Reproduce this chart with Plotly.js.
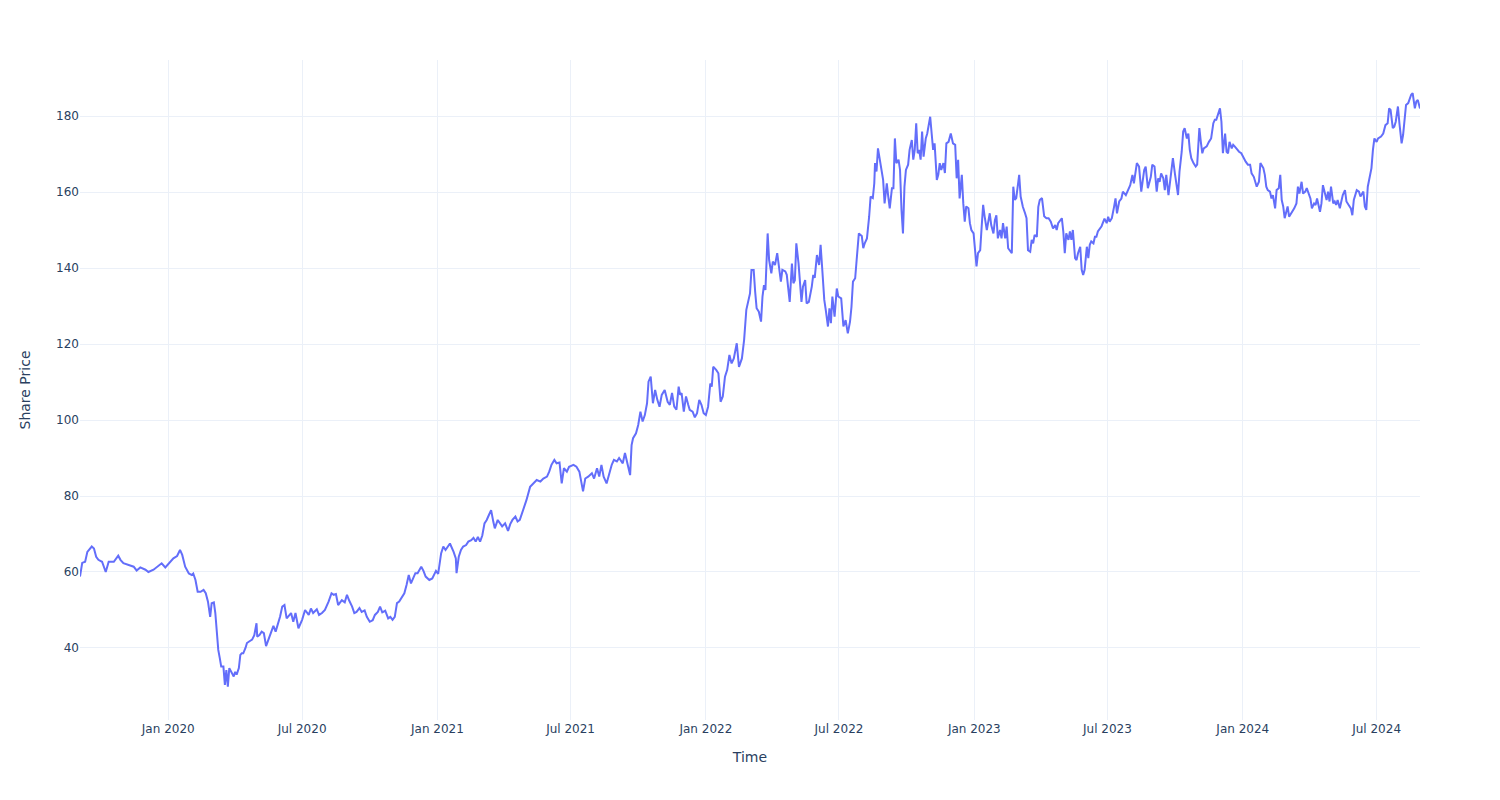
<!DOCTYPE html>
<html>
<head>
<meta charset="utf-8">
<script src="https://cdn.plot.ly/plotly-3.0.1.min.js"></script>
<style>html,body{margin:0;padding:0;background:#fff;}#chart{width:1500px;height:800px;}</style>
</head>
<body>
<div id="chart"></div>
<script>
const dates = [
"2019-09-03","2019-09-06","2019-09-10","2019-09-13","2019-09-19","2019-09-22","2019-09-25","2019-09-28","2019-10-03","2019-10-08",
"2019-10-12","2019-10-19","2019-10-25","2019-10-28","2019-11-01","2019-11-08","2019-11-15","2019-11-19","2019-11-24","2019-12-01",
"2019-12-05","2019-12-12","2019-12-17","2019-12-23","2019-12-28","2020-01-04","2020-01-08","2020-01-13","2020-01-17","2020-01-20",
"2020-01-24","2020-01-29","2020-02-02","2020-02-04","2020-02-07","2020-02-10","2020-02-14","2020-02-18","2020-02-21","2020-02-24",
"2020-02-27","2020-02-29","2020-03-03","2020-03-05","2020-03-07","2020-03-09","2020-03-11","2020-03-13","2020-03-16","2020-03-18",
"2020-03-20","2020-03-22","2020-03-24","2020-03-28","2020-03-30","2020-04-01","2020-04-03","2020-04-06","2020-04-08","2020-04-10",
"2020-04-12","2020-04-15","2020-04-17","2020-04-20","2020-04-24","2020-04-27","2020-04-30","2020-05-01","2020-05-04","2020-05-07",
"2020-05-10","2020-05-13","2020-05-16","2020-05-20","2020-05-23","2020-05-26","2020-05-29","2020-06-01","2020-06-04","2020-06-07",
"2020-06-10","2020-06-13","2020-06-16","2020-06-19","2020-06-22","2020-06-26","2020-07-01","2020-07-05","2020-07-10","2020-07-13",
"2020-07-16","2020-07-21","2020-07-24","2020-07-28","2020-08-01","2020-08-06","2020-08-10","2020-08-13","2020-08-16","2020-08-19",
"2020-08-24","2020-08-28","2020-08-31","2020-09-03","2020-09-07","2020-09-10","2020-09-13","2020-09-17","2020-09-20","2020-09-24",
"2020-09-27","2020-10-01","2020-10-05","2020-10-08","2020-10-12","2020-10-15","2020-10-18","2020-10-22","2020-10-26","2020-10-29",
"2020-11-01","2020-11-04","2020-11-07","2020-11-10","2020-11-14","2020-11-17","2020-11-20","2020-11-23","2020-11-26","2020-12-02",
"2020-12-05","2020-12-10","2020-12-13","2020-12-16","2020-12-21","2020-12-25","2020-12-30","2021-01-02","2021-01-06","2021-01-09",
"2021-01-12","2021-01-18","2021-01-23","2021-01-26","2021-01-27","2021-01-30","2021-02-02","2021-02-05","2021-02-09","2021-02-12",
"2021-02-16","2021-02-19","2021-02-22","2021-02-25","2021-02-28","2021-03-03","2021-03-06","2021-03-09","2021-03-12","2021-03-15",
"2021-03-18","2021-03-20","2021-03-24","2021-03-27","2021-03-30","2021-04-03","2021-04-07","2021-04-10","2021-04-13","2021-04-17",
"2021-04-20","2021-04-23","2021-04-27","2021-05-02","2021-05-07","2021-05-11","2021-05-16","2021-05-21","2021-05-25","2021-05-30",
"2021-06-02","2021-06-05","2021-06-09","2021-06-12","2021-06-16","2021-06-19","2021-06-22","2021-06-26","2021-06-29","2021-07-05",
"2021-07-09","2021-07-13","2021-07-16","2021-07-18","2021-07-21","2021-07-25","2021-07-30","2021-08-02","2021-08-06","2021-08-09",
"2021-08-12","2021-08-15","2021-08-19","2021-08-23","2021-08-26","2021-08-29","2021-09-02","2021-09-05","2021-09-10","2021-09-13",
"2021-09-16","2021-09-20","2021-09-22","2021-09-24","2021-09-28","2021-10-01","2021-10-04","2021-10-07","2021-10-10","2021-10-13",
"2021-10-15","2021-10-18","2021-10-21","2021-10-24","2021-10-27","2021-10-30","2021-11-02","2021-11-06","2021-11-10","2021-11-13",
"2021-11-16","2021-11-19","2021-11-22","2021-11-25","2021-11-27","2021-11-29","2021-12-02","2021-12-05","2021-12-08","2021-12-10",
"2021-12-14","2021-12-17","2021-12-20","2021-12-23","2021-12-26","2021-12-29","2022-01-01","2022-01-04","2022-01-07","2022-01-09",
"2022-01-11","2022-01-15","2022-01-18","2022-01-21","2022-01-24","2022-01-27","2022-01-30","2022-02-02","2022-02-05","2022-02-08",
"2022-02-12","2022-02-15","2022-02-19","2022-02-22","2022-02-25","2022-02-28","2022-03-02","2022-03-04","2022-03-07","2022-03-09",
"2022-03-11","2022-03-14","2022-03-17","2022-03-19","2022-03-21","2022-03-23","2022-03-26","2022-03-28","2022-03-31","2022-04-02",
"2022-04-05","2022-04-08","2022-04-10","2022-04-13","2022-04-15","2022-04-19","2022-04-21","2022-04-23","2022-04-25","2022-04-28",
"2022-04-30","2022-05-02","2022-05-04","2022-05-07","2022-05-09","2022-05-11","2022-05-13","2022-05-16","2022-05-18","2022-05-21",
"2022-05-25","2022-05-27","2022-05-29","2022-06-01","2022-06-04","2022-06-06","2022-06-08","2022-06-11","2022-06-13","2022-06-16",
"2022-06-18","2022-06-20","2022-06-22","2022-06-25","2022-06-28","2022-06-30","2022-07-04","2022-07-07","2022-07-10","2022-07-13",
"2022-07-16","2022-07-18","2022-07-20","2022-07-23","2022-07-25","2022-07-28","2022-08-01","2022-08-03","2022-08-05","2022-08-08",
"2022-08-11","2022-08-13","2022-08-16","2022-08-18","2022-08-19","2022-08-21","2022-08-23","2022-08-26","2022-08-28","2022-08-30",
"2022-09-01","2022-09-04","2022-09-06","2022-09-08","2022-09-11","2022-09-13","2022-09-15","2022-09-17","2022-09-20","2022-09-22",
"2022-09-24","2022-09-26","2022-09-28","2022-09-30","2022-10-03","2022-10-05","2022-10-08","2022-10-10","2022-10-12","2022-10-14",
"2022-10-16","2022-10-18","2022-10-20","2022-10-22","2022-10-24","2022-10-27","2022-10-29","2022-11-02","2022-11-04","2022-11-06",
"2022-11-08","2022-11-11","2022-11-13","2022-11-15","2022-11-17","2022-11-20","2022-11-22","2022-11-24","2022-11-27","2022-11-30",
"2022-12-03","2022-12-06","2022-12-08","2022-12-10","2022-12-12","2022-12-15","2022-12-17","2022-12-19","2022-12-21","2022-12-24",
"2022-12-26","2022-12-28","2022-12-31","2023-01-02","2023-01-04","2023-01-06","2023-01-09","2023-01-11","2023-01-13","2023-01-15",
"2023-01-18","2023-01-20","2023-01-22","2023-01-24","2023-01-27","2023-01-29","2023-01-31","2023-02-02","2023-02-05","2023-02-07",
"2023-02-09","2023-02-12","2023-02-14","2023-02-16","2023-02-18","2023-02-21","2023-02-23","2023-02-25","2023-02-27","2023-03-01",
"2023-03-03","2023-03-05","2023-03-08","2023-03-11","2023-03-13","2023-03-15","2023-03-18","2023-03-20","2023-03-22","2023-03-24",
"2023-03-27","2023-03-29","2023-03-31","2023-04-03","2023-04-06","2023-04-09","2023-04-12","2023-04-15","2023-04-18","2023-04-21",
"2023-04-23","2023-04-25","2023-04-30","2023-05-02","2023-05-04","2023-05-06","2023-05-09","2023-05-11","2023-05-13","2023-05-15",
"2023-05-18","2023-05-20","2023-05-22","2023-05-25","2023-05-27","2023-05-29","2023-05-31","2023-06-03","2023-06-05","2023-06-07",
"2023-06-09","2023-06-12","2023-06-14","2023-06-16","2023-06-18","2023-06-23","2023-06-27","2023-06-30","2023-07-02","2023-07-04",
"2023-07-07","2023-07-10","2023-07-12","2023-07-14","2023-07-17","2023-07-20","2023-07-22","2023-07-26","2023-07-29","2023-08-01",
"2023-08-04","2023-08-06","2023-08-10","2023-08-13","2023-08-16","2023-08-20","2023-08-22","2023-08-25","2023-08-29","2023-08-31",
"2023-09-03","2023-09-06","2023-09-08","2023-09-10","2023-09-12","2023-09-15","2023-09-17","2023-09-19","2023-09-22","2023-09-24",
"2023-09-26","2023-09-28","2023-10-01","2023-10-03","2023-10-05","2023-10-07","2023-10-10","2023-10-12","2023-10-14","2023-10-17",
"2023-10-19","2023-10-21","2023-10-23","2023-10-26","2023-10-29","2023-10-31","2023-11-03","2023-11-05","2023-11-07","2023-11-09",
"2023-11-13","2023-11-16","2023-11-19","2023-11-22","2023-11-24","2023-11-26","2023-11-28","2023-12-01","2023-12-03","2023-12-05",
"2023-12-08","2023-12-10","2023-12-12","2023-12-14","2023-12-17","2023-12-19","2023-12-21","2023-12-23","2023-12-27","2023-12-30",
"2024-01-02","2024-01-05","2024-01-08","2024-01-11","2024-01-13","2024-01-16","2024-01-20","2024-01-23","2024-01-25","2024-01-29",
"2024-01-31","2024-02-02","2024-02-04","2024-02-07","2024-02-09","2024-02-11","2024-02-14","2024-02-16","2024-02-19","2024-02-21",
"2024-02-23","2024-02-25","2024-02-27","2024-02-29","2024-03-02","2024-03-04","2024-03-07","2024-03-11","2024-03-14","2024-03-16",
"2024-03-18","2024-03-21","2024-03-23","2024-03-26","2024-03-28","2024-03-31","2024-04-02","2024-04-04","2024-04-07","2024-04-09",
"2024-04-11","2024-04-15","2024-04-17","2024-04-19","2024-04-21","2024-04-24","2024-04-26","2024-04-28","2024-04-30","2024-05-03",
"2024-05-05","2024-05-07","2024-05-09","2024-05-12","2024-05-14","2024-05-16","2024-05-19","2024-05-21","2024-05-24","2024-05-27",
"2024-05-29","2024-05-31","2024-06-04","2024-06-07","2024-06-09","2024-06-13","2024-06-15","2024-06-17","2024-06-19","2024-06-22",
"2024-06-24","2024-06-26","2024-06-28","2024-07-01","2024-07-03","2024-07-07","2024-07-10","2024-07-13","2024-07-16","2024-07-18",
"2024-07-20","2024-07-23","2024-07-25","2024-07-27","2024-07-30","2024-08-01","2024-08-04","2024-08-06","2024-08-08","2024-08-10",
"2024-08-13","2024-08-15","2024-08-17","2024-08-19","2024-08-22","2024-08-24","2024-08-26","2024-08-29"
];
const prices = [
58.8,62.4,62.7,65.3,66.7,66.2,64.0,63.2,62.7,60.0,
62.7,62.7,64.3,63.2,62.3,61.8,61.4,60.4,61.2,60.6,
60.0,60.6,61.4,62.3,61.2,62.7,63.6,64.2,65.8,64.5,
61.4,59.6,59.2,59.6,57.9,54.8,54.8,55.3,54.4,52.2,
48.2,51.8,52.0,49.2,44.7,39.5,37.4,35.1,35.1,30.3,
34.2,29.8,34.7,33.3,32.5,33.7,33.0,34.7,38.2,38.6,
38.6,40.0,41.3,41.7,42.2,43.4,46.5,43.0,43.4,44.3,
43.9,40.5,42.2,44.7,45.8,44.3,46.1,48.2,50.9,51.3,
47.8,48.6,49.2,46.9,49.2,45.2,47.4,50.0,48.7,50.4,
49.2,50.2,48.7,49.2,50.0,52.2,54.4,54.0,54.2,51.3,
52.6,52.0,54.0,52.5,50.9,49.2,49.5,50.5,49.5,49.9,
48.2,46.9,47.3,48.7,49.5,50.9,49.4,49.8,47.8,48.2,
47.4,48.2,51.8,52.2,53.5,54.4,56.6,59.2,57.0,59.7,
59.7,61.4,60.3,58.8,57.9,58.3,60.3,59.5,64.9,66.7,
65.8,67.5,65.3,63.6,59.7,64.0,65.8,66.7,67.1,68.0,
68.4,69.0,68.0,69.2,68.0,69.6,72.8,73.7,75.0,76.3,
73.2,71.5,73.7,72.8,72.0,72.8,70.8,72.6,73.7,74.6,
73.3,73.7,76.0,78.9,82.4,83.3,84.2,83.8,84.6,85.1,
86.4,88.2,89.5,88.6,88.8,83.3,87.3,86.4,87.7,88.2,
87.7,86.4,82.5,81.2,84.6,85.1,86.0,84.6,87.3,85.1,
88.2,85.1,83.3,86.0,88.2,89.5,89.1,90.0,88.6,91.3,
89.0,85.5,93.4,95.2,96.5,98.7,102.2,99.6,101.3,104.4,
110.1,111.4,104.4,107.9,105.3,103.5,106.6,107.9,104.8,104.0,
107.1,103.5,102.7,108.8,106.6,107.1,102.2,106.2,104.0,102.7,
102.2,100.7,101.8,105.3,104.0,101.8,101.3,103.5,109.6,108.8,
114.0,113.2,112.3,104.8,106.2,111.4,113.2,117.1,114.9,116.2,
120.2,114.0,116.2,121.1,129.0,131.6,133.3,139.5,139.5,133.8,
129.4,128.5,125.9,132.5,135.5,134.2,149.1,142.1,138.6,141.7,
140.8,143.9,141.2,136.4,139.5,139.1,138.2,135.1,131.1,141.2,
136.0,136.8,146.5,141.2,135.5,131.1,135.1,136.8,130.7,131.1,
135.1,138.2,137.4,143.4,140.8,146.1,140.4,131.6,129.0,124.6,
129.4,125.5,132.5,127.2,134.6,132.5,132.0,124.6,126.3,122.8,
125.9,129.8,136.4,137.3,142.1,149.1,148.4,145.2,146.5,147.8,
153.5,158.8,158.4,162.3,167.6,165.4,171.5,167.6,165.4,163.2,
157.0,162.3,158.8,155.7,161.0,161.0,174.1,167.6,168.5,165.8,
155.3,149.1,161.4,165.8,167.2,171.1,173.7,168.5,171.1,178.1,
170.2,171.1,168.5,175.9,169.3,174.1,175.4,179.8,175.4,171.1,
172.8,163.2,164.5,167.6,165.8,167.6,165.0,172.8,173.2,175.4,
172.8,172.4,163.6,168.5,158.3,164.5,157.0,152.2,156.2,155.7,
151.8,150.0,149.1,144.7,140.4,143.9,144.7,150.9,156.6,153.6,
150.0,152.2,154.4,151.3,149.1,152.6,153.9,147.8,150.0,147.8,
151.8,147.8,150.9,145.2,144.7,143.9,161.4,157.9,158.4,161.8,
164.5,158.8,156.1,154.4,153.1,144.7,144.3,147.4,146.5,148.7,
148.2,156.1,157.9,158.4,153.6,153.1,153.1,152.2,150.4,151.3,
150.0,151.8,153.1,149.6,143.9,149.1,147.4,149.6,147.4,150.0,
142.6,142.1,143.9,145.6,139.5,138.2,139.5,145.6,142.6,146.1,
147.0,146.5,148.2,148.2,149.6,151.0,153.0,151.8,153.5,152.2,
153.1,156.1,158.3,154.4,157.5,158.3,160.1,159.2,160.5,161.8,
164.5,162.3,167.6,166.7,160.1,165.8,166.7,161.0,164.0,167.2,
166.7,160.1,163.6,162.7,164.9,163.6,160.5,164.5,159.2,162.7,
164.5,168.9,164.5,161.0,159.2,165.4,170.6,175.9,176.8,174.1,
175.4,171.1,168.9,167.6,166.7,167.2,176.8,173.2,170.2,171.5,
172.0,173.2,174.1,178.1,179.0,179.0,180.3,182.0,178.5,170.2,
175.4,170.6,170.2,173.2,171.5,172.4,172.0,171.5,170.6,170.2,
168.9,168.0,167.2,167.2,164.9,164.0,161.4,162.7,167.6,166.3,
164.5,161.4,160.5,160.1,158.3,159.2,155.7,160.5,161.0,164.5,
157.9,156.2,153.1,154.8,156.2,153.5,154.4,155.7,157.0,161.4,
159.6,162.7,159.6,160.1,161.0,159.2,158.3,155.7,157.0,156.6,
158.3,154.8,157.0,161.8,160.5,157.9,160.1,157.5,161.4,157.0,
157.5,156.6,157.9,155.7,157.5,159.2,160.5,157.5,156.6,155.7,
153.9,157.9,160.5,160.1,158.8,160.1,156.2,155.3,161.4,164.9,
166.3,171.1,174.1,173.2,174.1,174.6,175.4,177.6,178.1,182.0,
181.6,176.8,177.2,178.5,182.5,178.1,172.8,175.0,178.9,182.9,
183.4,184.7,185.6,186.0,182.0,183.8,184.2,182.0
];
const xTitle = "Time";
const yTitle = "Share Price";

const trace = {
  x: dates, y: prices, type: "scatter", mode: "lines",
  line: {color: "#636efa", width: 2}, name: "Share Price"
};
const layout = {
  template: "plotly_white",
  width: 1500, height: 800,
  paper_bgcolor: "#ffffff", plot_bgcolor: "#ffffff",
  margin: {l: 80, r: 80, t: 60, b: 80},
  font: {family: "'DejaVu Sans', Verdana, sans-serif", color: "#2a3f5f", size: 12},
  showlegend: false,
  xaxis: {
    type: "date", title: {text: xTitle, font: {size: 14}, standoff: 17},
    gridcolor: "#EBF0F8", showline: false, zeroline: false,
    ticks: "", tickformat: "%b %Y", dtick: "M6", tick0: "2020-01-01"
  },
  yaxis: {
    title: {text: yTitle, font: {size: 14}, standoff: 22},
    range: [21.05, 194.74], gridcolor: "#EBF0F8", zeroline: false,
    dtick: 20, tick0: 0, ticks: ""
  }
};
Plotly.newPlot("chart", [trace], layout, {displayModeBar: false, staticPlot: true});
</script>
</body>
</html>
